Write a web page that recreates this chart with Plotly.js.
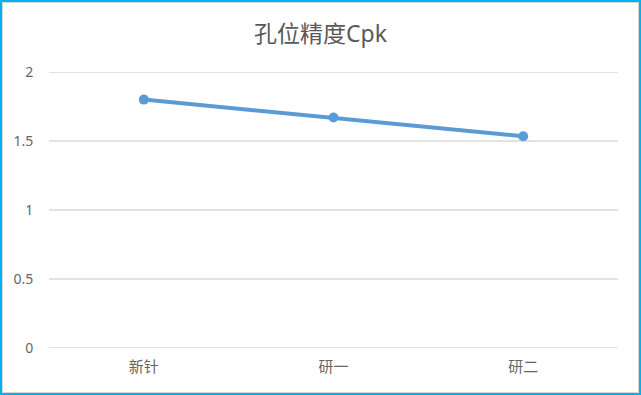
<!DOCTYPE html>
<html>
<head>
<meta charset="utf-8">
<script src="https://cdn.plot.ly/plotly-3.0.1.min.js"></script>
<style>
html,body{margin:0;padding:0;background:#fff;}
#wrap{position:relative;width:641px;height:395px;}
#chart{width:641px;height:395px;}
#frame{position:absolute;left:0;top:0;width:641px;height:395px;box-sizing:border-box;border:2px solid #00B0F0;pointer-events:none;}
#inner{position:absolute;left:2px;top:2px;width:637px;height:391px;box-sizing:border-box;border:1px solid #D9D9D9;pointer-events:none;}
</style>
</head>
<body>
<div id="wrap">
<div id="chart"></div>
<div id="inner"></div>
<div id="frame"></div>
</div>
<script>
const categories = ['新针', '研一', '研二'];
const cpkValues = [1.80, 1.67, 1.535];
const yTicks = [0, 0.5, 1, 1.5, 2];
const yTickLabels = ['0', '0.5', '1', '1.5', '2'];

const font = 'Noto Sans, Noto Sans CJK SC, sans-serif';

const trace = {
  x: categories,
  y: cpkValues,
  type: 'scatter',
  mode: 'lines+markers',
  line: {color: '#5B9BD5', width: 4},
  marker: {color: '#5B9BD5', size: 10},
  hoverinfo: 'x+y'
};

// gridlines as shapes, so the edge lines at 0 and 2 are drawn too
const gridShapes = yTicks.map(v => ({
  type: 'line', xref: 'paper', yref: 'y',
  x0: 0, x1: 1, y0: v, y1: v,
  line: {color: '#D9D9D9', width: 1.3},
  layer: 'below'
}));

const layout = {
  width: 641,
  height: 395,
  margin: {l: 49, r: 23, t: 72, b: 47},
  paper_bgcolor: '#ffffff',
  plot_bgcolor: '#ffffff',
  showlegend: false,
  shapes: gridShapes,
  title: {
    text: '孔位精度Cpk',
    font: {family: font, size: 23, color: '#595959'},
    x: 0.5,
    xanchor: 'center',
    xref: 'container',
    y: 0.915,
    yanchor: 'middle',
    yref: 'container'
  },
  xaxis: {
    type: 'category',
    range: [-0.5, 2.5],
    showgrid: false,
    zeroline: false,
    showline: false,
    ticks: 'outside',
    ticklen: 5,
    tickcolor: 'rgba(0,0,0,0)',
    tickfont: {family: font, size: 15, color: '#666666'},
    fixedrange: true
  },
  yaxis: {
    range: [0, 2],
    tickvals: yTicks,
    ticktext: yTickLabels,
    showgrid: false,
    zeroline: false,
    showline: false,
    ticks: 'outside',
    ticklen: 12,
    tickcolor: 'rgba(0,0,0,0)',
    tickfont: {family: font, size: 14, color: '#666666'},
    fixedrange: true
  }
};

Plotly.newPlot('chart', [trace], layout, {displayModeBar: false, staticPlot: true});
</script>
</body>
</html>
